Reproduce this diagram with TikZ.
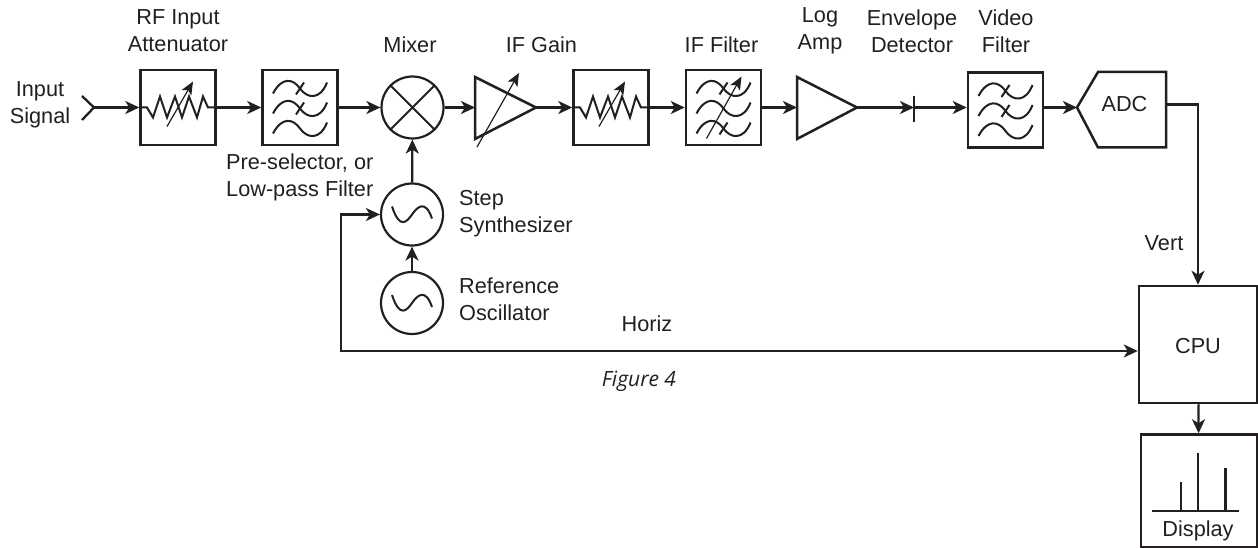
\documentclass[tikz,border=0pt]{standalone}
\usepackage{fontspec}
\setmainfont{Liberation Sans}
\newfontfamily\lblfont{Liberation Sans}
\newfontfamily\figfont{Open Sans}
\usetikzlibrary{arrows.meta}
\definecolor{ink}{HTML}{231F20}
\tikzset{
	sig/.style={line width=2.3pt, draw=ink, >={Stealth[length=14pt,width=13pt,inset=4pt]}},
	tune/.style={line width=1.2pt, draw=ink, >={Stealth[length=13pt,width=11pt,inset=3pt]}},
	glyph/.style={line width=2pt, draw=ink},
	outline/.style={draw=ink, line width=2.5pt, line join=miter},
	blockbox/.style={outline, minimum size=75pt, inner sep=0pt},
	round/.style={draw=ink, line width=2.2pt, circle, minimum size=62pt, inner sep=0pt},
	lbl/.style={text=ink, font=\lblfont\fontsize{21.7}{27}\selectfont, align=center, inner sep=0pt},
	lblleft/.style={lbl, align=left, anchor=west}
}
\newcommand{\padcurve}[1]{
	\draw [glyph, shift={(#1)}]
	  (-27,5) .. controls (-18,-12) and (-7,-10) .. (0,0)
	  .. controls (7,10) and (20,12) .. (27,-6);
}
\newcommand{\padtick}[1]{
	\draw [glyph, shift={(#1)}] (-4,6) -- (4,-6);
}
\newcommand{\bankglyph}[1]{
	\begin{scope}[shift={(#1)}]
		\padcurve{0,-19}
		\padcurve{0,1}
		\padcurve{0,21}
	\end{scope}
}
\newcommand{\zigzag}[1]{
	\draw [glyph, line join=miter, shift={(#1)}]
	  (-38,0) -- (-31,0) -- (-25,10) -- (-18,-11) -- (-11,10) -- (-3,-11)
	  -- (4,10) -- (11,-11) -- (19,10) -- (25,-11) -- (30,0) -- (38,0);
}
\newcommand{\sinewave}[1]{
	\draw [glyph, shift={(#1)}]
	  (-20,-8) .. controls (-12,16) and (-5,7) .. (0,0)
	  .. controls (5,-7) and (13,-16) .. (20,4);
}
\begin{document}
\begin{tikzpicture}[x=1pt, y=-1pt]
	\useasboundingbox (0,0) rectangle (1258,548);

	\node [lbl] (inputlabel) at (40,104.5) {Input\\Signal};
	\node [lbl] (attenlabel) at (178,31) {RF Input\\Attenuator};
	\node [lblleft] (presellabel) at (226,177) {Pre-selector, or\\Low-pass Filter};
	\node [lbl] (mixerlabel) at (410,45) {Mixer};
	\node [lbl] (gainlabel) at (541.5,45) {IF Gain};
	\node [lbl] (filterlabel) at (721.5,45) {IF Filter};
	\node [lbl] (loglabel) at (820,31) {Log\\Amp};
	\node [lbl] (envlabel) at (912,31) {Envelope\\Detector};
	\node [lbl] (videolabel) at (1006,31) {Video\\Filter};
	\node [lblleft] (synthlabel) at (459,214) {Step\\Synthesizer};
	\node [lblleft] (osclabel) at (459,299) {Reference\\Oscillator};
	\node [lbl] (horizlabel) at (647,324) {Horiz};
	\node [lbl] (vertlabel) at (1164,243) {Vert};
	\node [text=ink, inner sep=0pt] (figlabel) at (639,381) {\figfont\itshape\fontsize{21}{25}\selectfont Figure 4};

	\coordinate (inputtip) at (94,107.5);
	\coordinate (inputtop) at (82,96);
	\coordinate (inputbot) at (82,120);
	\node [blockbox] (atten) at (178,107.5) {};
	\node [blockbox] (presel) at (300,107.5) {};
	\node [round] (mixer) at (412.5,107.5) {};
	\coordinate (gainin) at (475,107.5);
	\coordinate (gainout) at (536,107.5);
	\node [blockbox] (gainpad) at (611,107.5) {};
	\node [blockbox] (iffilter) at (723.5,107.5) {};
	\coordinate (login) at (797,107.5);
	\coordinate (logout) at (857,107.5);
	\coordinate (dettop) at (914,96);
	\coordinate (detbot) at (914,122);
	\coordinate (det) at (914,107.5);
	\node [blockbox] (video) at (1005.5,110) {};
	\coordinate (adcin) at (1077,107.5);
	\coordinate (adcout) at (1166,104.5);
	\coordinate (adccorner) at (1198,104.5);
	\node [lbl] (adc) at (1124.5,104) {ADC};
	\node [round] (synth) at (412,214.5) {};
	\node [round] (osc) at (412,303) {};
	\node [blockbox, minimum width=118pt, minimum height=117pt] (cpu) at (1198,344.5) {};
	\node [lbl] (cpulabel) at (1198,346) {CPU};
	\node [blockbox, minimum width=116pt, minimum height=113pt] (display) at (1199,491) {};
	\node [lbl] (displaylabel) at (1198,531) {Display};
	\coordinate (horizcorner) at (341,351);
	\coordinate (horizup) at (341,214.5);
	\coordinate (cpuin) at (cpu.west |- horizcorner);

	\draw [sig] (inputtop) -- (inputtip) -- (inputbot);
	\draw [sig, ->] (inputtip) -- (atten);
	\draw [sig, ->] (atten) -- (presel);
	\draw [sig, ->] (presel) -- (mixer);
	\draw [sig, ->] (mixer) -- (gainin);
	\draw [sig, ->] (gainout) -- (gainpad);
	\draw [sig, ->] (gainpad) -- (iffilter);
	\draw [sig, ->] (iffilter) -- (login);
	\draw [sig, ->] (logout) -- (det);
	\draw [sig, ->] (det) -- (video.west |- det);
	\draw [sig, ->] (video.east |- adcin) -- (adcin);
	\draw [sig, ->] (adcout) -- (adccorner) -- (cpu.north -| adccorner);
	\draw [sig, ->] (cpu) -- (display);
	\draw [sig, ->] (synth) -- (mixer);
	\draw [sig, ->] (osc) -- (synth);
	\draw [sig, <->] (cpuin) -- (horizcorner) -- (horizup) -- (synth);

	% mixer cross
	\draw [glyph] (mixer.north west) -- (mixer.south east);
	\draw [glyph] (mixer.north east) -- (mixer.south west);

	% triangles, detector bar and adc outline
	\draw [outline] (gainin |- 0,77) -- (gainout) -- (gainin |- 0,139) -- cycle;
	\draw [outline] (login |- 0,77) -- (logout) -- (login |- 0,139) -- cycle;
	\draw [sig] (dettop) -- (detbot);
	\draw [outline] (adcin) -- (1098,72) -- (1166,72) -- (1166,147.5) -- (1098,147.5) -- cycle;

	% glyphs in the boxes
	\zigzag{atten}
	\zigzag{gainpad}
	\draw [tune, ->] (167,126.5) -- (193,81.5);
	\draw [tune, ->] (599,126.5) -- (625,81.5);
	\draw [tune, ->] (477,147) -- (519,73);
	\draw [tune, ->] (706.5,138.5) -- (741.5,76.5);

	\bankglyph{presel}
	\padtick{300,-19+107.5}
	\padtick{300,1+107.5}
	\bankglyph{iffilter}
	\padtick{723.5,-19+107.5}
	\padtick{723.5,21+107.5}
	\bankglyph{video}
	\padtick{1005.5,-19+110}
	\padtick{1005.5,1+110}

	\sinewave{synth}
	\sinewave{osc}

	% display trace
	\draw [sig] (1152,511) -- (1239,511);
	\draw [sig] (1181,511) -- (1181,482);
	\draw [sig] (1198,511) -- (1198,453);
	\draw [sig] (1225.5,511) -- (1225.5,468);
\end{tikzpicture}
\end{document}
